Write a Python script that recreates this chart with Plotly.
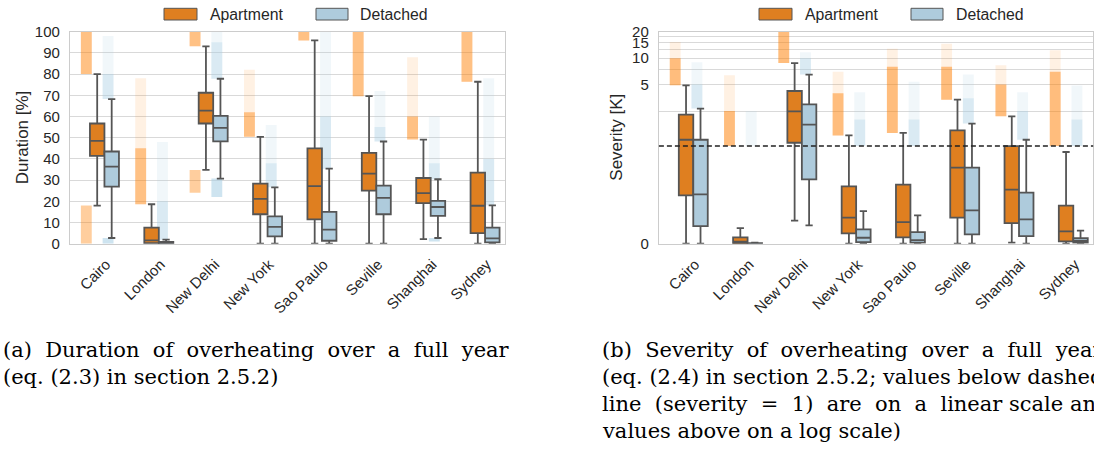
import math
import plotly.graph_objects as go

# ---------------- data ----------------
cities = ["Cairo", "London", "New Delhi", "New York", "Sao Paulo", "Seville", "Shanghai", "Sydney"]

# Duration [%] -- box statistics
dur_apt_q1 = [41.4, 0.3, 56.7, 13.9, 11.5, 25.0, 19.1, 5.0]
dur_apt_med = [48.5, 1.6, 62.8, 21.1, 27.2, 33.1, 23.9, 17.9]
dur_apt_q3 = [56.7, 7.6, 71.2, 28.3, 45.0, 42.8, 31.0, 33.5]
dur_apt_lo = [18.0, 0.0, 34.8, 0.0, 0.0, 0.0, 2.2, 0.0]
dur_apt_hi = [80.0, 18.6, 93.1, 50.4, 95.9, 69.6, 49.1, 76.4]

dur_det_q1 = [26.9, 0.1, 48.3, 3.5, 1.4, 13.9, 13.1, 0.6]
dur_det_med = [36.4, 0.3, 54.6, 7.9, 6.6, 21.6, 17.3, 2.5]
dur_det_q3 = [43.5, 0.8, 60.3, 12.9, 15.0, 27.4, 20.2, 7.6]
dur_det_lo = [2.7, 0.0, 30.7, 0.0, 0.0, 0.0, 2.7, 0.0]
dur_det_hi = [68.2, 1.9, 77.8, 26.6, 35.4, 48.2, 30.4, 18.1]

# Duration outliers: upper (dense end, max) and lower (min, max)
dur_apt_out_dense = [100, 45, 100, 62, 100, 100, 60, 100]
dur_apt_out_max = [100, 78, 100, 82, 100, 100, 88, 100]
dur_apt_low_min = [0.0, 0, 24.0, 0, 0, 0, 0, 0]
dur_apt_low_max = [18.0, 0, 34.8, 0, 0, 0, 0, 0]
dur_det_out_dense = [80, 20, 95, 38, 60, 55, 38, 40]
dur_det_out_max = [98, 48, 100, 56, 100, 72, 60, 78]
dur_det_low_min = [0.0, 0, 22.0, 0, 0, 0, 1.0, 0]
dur_det_low_max = [2.7, 0, 30.7, 0, 0, 0, 2.7, 0]

# Severity [K] -- box statistics
sev_apt_q1 = [0.495, 0.0, 1.09, 0.105, 0.065, 0.266, 0.211, 0.024]
sev_apt_med = [1.18, 0.02, 2.48, 0.266, 0.221, 0.779, 0.553, 0.126]
sev_apt_q3 = [2.28, 0.065, 4.23, 0.587, 0.604, 1.51, 1.0, 0.389]
sev_apt_lo = [0.0, 0.0, 0.236, 0.0, 0.0, 0.0, 0.01, 0.0]
sev_apt_hi = [4.91, 0.16, 8.8, 1.32, 1.41, 3.37, 2.18, 0.939]

sev_det_q1 = [0.18, 0.0, 0.659, 0.016, 0.01, 0.095, 0.078, 0.01]
sev_det_med = [0.505, 0.002, 1.75, 0.061, 0.037, 0.341, 0.249, 0.03]
sev_det_q3 = [1.18, 0.005, 2.98, 0.146, 0.119, 0.779, 0.522, 0.057]
sev_det_lo = [0.0, 0.0, 0.187, 0.0, 0.0, 0.0, 0.0, 0.0]
sev_det_hi = [2.67, 0.01, 6.5, 0.334, 0.29, 1.8, 1.18, 0.133]

# Severity outliers (shown above 1): start, dense end, max
sev_apt_out_start = [4.91, 1.0, 8.8, 1.32, 1.41, 3.37, 2.18, 1.0]
sev_apt_out_dense = [10, 2.5, 20, 4, 8, 8, 5, 7]
sev_apt_out_max = [15.3, 6.4, 20, 7, 12.8, 14.6, 8.3, 12.3]
sev_det_out_start = [2.67, 1.0, 6.5, 1.0, 1.0, 1.8, 1.18, 1.0]
sev_det_out_dense = [5, 1.0, 10, 2, 2, 3.5, 2.5, 2]
sev_det_out_max = [9.0, 2.5, 11.7, 4.1, 5.4, 6.5, 4.1, 4.9]

sev_ticks = [0, 2.5, 5, 7.5, 10, 12.5, 15, 17.5, 20]
sev_tick_text = ["0", "", "5", "", "10", "", "15", "", "20"]

# ---------------- styling ----------------
W, H = 1094, 454
ORANGE_BOX = "#df7f20"
BLUE_BOX = "#aecbdc"
ORANGE_PT = "255,127,0"
BLUE_PT = "166,206,227"
LINE = "#555555"
TXT = "#262626"
FONT = "Liberation Sans"


def symlog(v):
    # linear below 1, logarithmic above (matplotlib symlog, linthresh=1, linscale=1)
    return v if v <= 1 else 1 + 0.9 * math.log10(v)


def T(arr):
    return [symlog(v) for v in arr]


fig = go.Figure()


def add_boxes(xa, ya, stats_apt, stats_det):
    for name, st, fc, off in [("Apartment", stats_apt, ORANGE_BOX, "a"),
                              ("Detached", stats_det, BLUE_BOX, "d")]:
        q1, med, q3, lo, hi = st
        fig.add_trace(go.Box(
            x=cities, q1=q1, median=med, q3=q3, lowerfence=lo, upperfence=hi,
            name=name, offsetgroup=off, fillcolor=fc,
            line=dict(color=LINE, width=1.8), whiskerwidth=0.5,
            boxpoints=False, showlegend=False, hoverinfo="skip",
            xaxis=xa, yaxis=ya))


def add_strip(xa, ya, lo, hi, rgb, alpha, offset):
    base = list(lo)
    height = [max(h - l, 0) for l, h in zip(lo, hi)]
    fig.add_trace(go.Bar(
        x=cities, y=height, base=base, width=0.2, offset=offset,
        marker=dict(color=f"rgba({rgb},{alpha})", line=dict(width=0)),
        showlegend=False, hoverinfo="skip", xaxis=xa, yaxis=ya))


# --- left: duration outlier clouds ---
add_strip("x", "y", dur_apt_hi, dur_apt_out_max, ORANGE_PT, 0.11, -0.3)
add_strip("x", "y", dur_apt_hi, dur_apt_out_dense, ORANGE_PT, 0.42, -0.3)
add_strip("x", "y", dur_apt_low_min, dur_apt_low_max, ORANGE_PT, 0.38, -0.3)
add_strip("x", "y", dur_det_hi, dur_det_out_max, BLUE_PT, 0.16, 0.1)
add_strip("x", "y", dur_det_hi, dur_det_out_dense, BLUE_PT, 0.3, 0.1)
add_strip("x", "y", dur_det_low_min, dur_det_low_max, BLUE_PT, 0.55, 0.1)

add_boxes("x", "y",
          (dur_apt_q1, dur_apt_med, dur_apt_q3, dur_apt_lo, dur_apt_hi),
          (dur_det_q1, dur_det_med, dur_det_q3, dur_det_lo, dur_det_hi))

# --- right: severity outlier clouds (symlog) ---
add_strip("x2", "y2", T(sev_apt_out_start), T(sev_apt_out_max), ORANGE_PT, 0.11, -0.3)
add_strip("x2", "y2", T(sev_apt_out_start), T(sev_apt_out_dense), ORANGE_PT, 0.45, -0.3)
add_strip("x2", "y2", T(sev_det_out_start), T(sev_det_out_max), BLUE_PT, 0.16, 0.1)
add_strip("x2", "y2", T(sev_det_out_start), T(sev_det_out_dense), BLUE_PT, 0.3, 0.1)

add_boxes("x2", "y2",
          (T(sev_apt_q1), T(sev_apt_med), T(sev_apt_q3), T(sev_apt_lo), T(sev_apt_hi)),
          (T(sev_det_q1), T(sev_det_med), T(sev_det_q3), T(sev_det_lo), T(sev_det_hi)))

# ---------------- layout ----------------
ydom = [1 - 243.7 / H, 1 - 31.7 / H]
xcommon = dict(type="category", tickangle=-45, showgrid=False, showline=True, mirror=True,
               linecolor="#cccccc", linewidth=1.2, ticks="outside", ticklen=5,
               tickcolor="rgba(0,0,0,0)", tickfont=dict(family=FONT, size=15, color=TXT),
               ticklabelshift=9, zeroline=False, automargin=False)
ycommon = dict(showgrid=True, gridcolor="#d9d9d9", gridwidth=1, showline=True, mirror=True,
               linecolor="#cccccc", linewidth=1.2, ticks="outside", ticklen=6,
               tickcolor="rgba(0,0,0,0)", tickfont=dict(family=FONT, size=15, color=TXT),
               zeroline=False, automargin=False)

fig.update_layout(
    template="none",
    width=W, height=H, autosize=False,
    margin=dict(l=0, r=0, t=0, b=0, pad=0, autoexpand=False),
    paper_bgcolor="white", plot_bgcolor="white",
    boxmode="group", boxgap=0.2, boxgroupgap=0.0, barmode="overlay",
    showlegend=False,
    xaxis=dict(domain=[70 / W, 505 / W], anchor="y", **xcommon),
    yaxis=dict(domain=ydom, anchor="x", range=[0, 100], dtick=10, **ycommon),
    xaxis2=dict(domain=[658.9 / W, 1093.2 / W], anchor="y2", **xcommon),
    yaxis2=dict(domain=ydom, anchor="x2", range=[0, symlog(20)],
                tickmode="array", tickvals=T(sev_ticks), ticktext=sev_tick_text,
                **ycommon),
)

# axis titles
for x, txt in [(22.5, "Duration [%]"), (617, "Severity [K]")]:
    fig.add_annotation(xref="paper", yref="paper", x=x / W, y=1 - 137.7 / H,
                       xanchor="center", yanchor="middle", showarrow=False, text=txt,
                       textangle=-90, font=dict(family=FONT, size=17, color=TXT))

# dashed line at severity = 1
fig.add_shape(type="line", xref="x2 domain", yref="y2", x0=0, x1=1, y0=symlog(1), y1=symlog(1),
              line=dict(color="#222222", width=1.6, dash="5px,3px"), layer="above")

# legends (drawn as patches + labels)
for x0, x1, col in [(164, 197, ORANGE_BOX), (316, 348, BLUE_BOX),
                    (759, 792, ORANGE_BOX), (911, 943, BLUE_BOX)]:
    fig.add_shape(type="rect", xref="paper", yref="paper",
                  x0=x0 / W, x1=x1 / W, y0=1 - 20 / H, y1=1 - 8.3 / H,
                  fillcolor=col, line=dict(color=LINE, width=1))
for x, txt in [(208, "Apartment"), (358, "Detached"), (803, "Apartment"), (954, "Detached")]:
    fig.add_annotation(xref="paper", yref="paper", x=x / W, y=1 - 14.5 / H,
                       xanchor="left", yanchor="middle", showarrow=False, text=txt,
                       font=dict(family=FONT, size=15.8, color=TXT))

# captions
SERIF = "DejaVu Serif"
captions = [
    (1, 350, "(a)  Duration  of  overheating  over  a  full  year"),
    (1, 377, "(eq. (2.3) in section 2.5.2)"),
    (600, 350, "(b)  Severity  of  overheating  over  a  full  year"),
    (600, 377, "(eq. (2.4) in section 2.5.2; values below dashed"),
    (600, 404, "line  (severity  =  1)  are  on  a  linear scale and"),
    (600, 431, "values above on a log scale)"),
]
for x, y, txt in captions:
    fig.add_annotation(xref="paper", yref="paper", x=x / W, y=1 - y / H,
                       xanchor="left", yanchor="middle", showarrow=False, text=txt,
                       font=dict(family=SERIF, size=21, color="black"))

fig.write_html("out.html",
               post_script="document.body.style.margin='0px';"
                           "document.documentElement.style.overflow='hidden';")
